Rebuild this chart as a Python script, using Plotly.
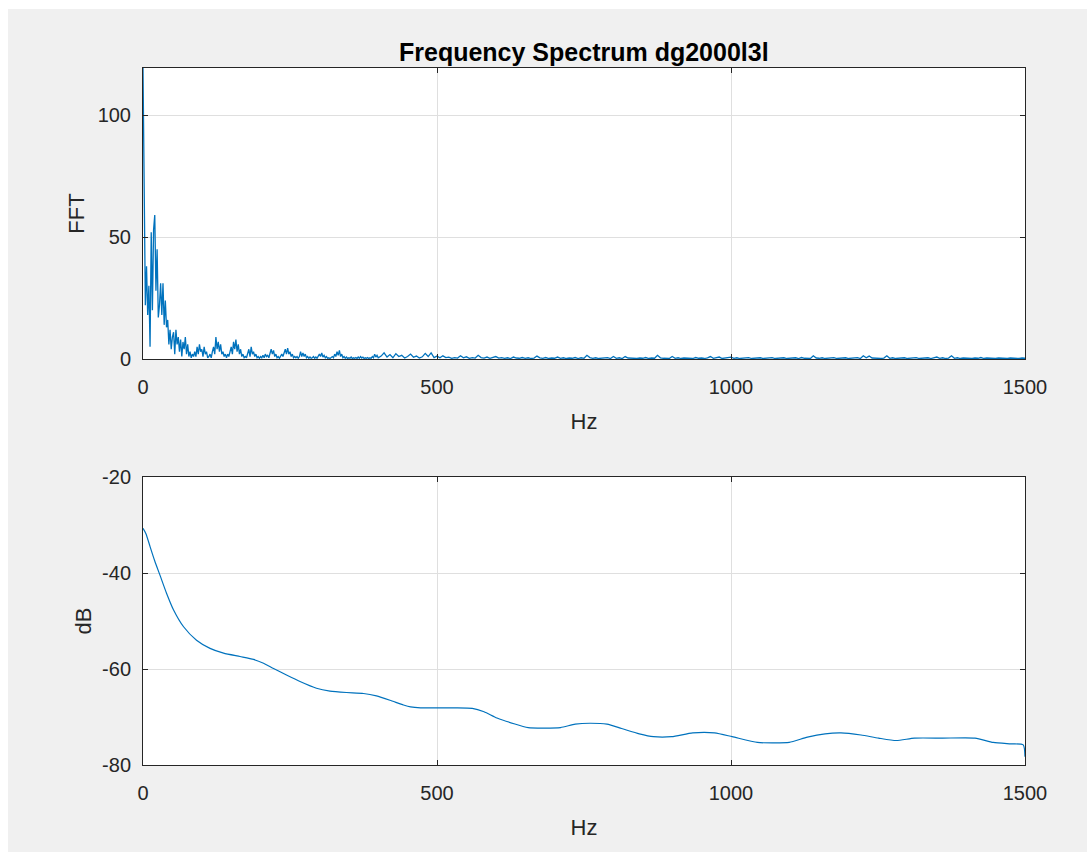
import plotly.graph_objects as go
from plotly.subplots import make_subplots

# ---------------- data ----------------
title_text = "Frequency Spectrum dg2000l3l"

# FFT magnitude, low band 0..400 Hz, 2 Hz bins
fft_low_step = 2.0
fft_low = [
    119.3, 62, 22, 38, 18, 30, 5, 52, 20, 53, 59, 28, 45, 17, 22, 31, 18, 31, 14, 24,
    13, 16, 6, 12, 4, 9, 11, 2, 12, 6, 9, 3, 8, 1, 7, 4, 9, 2, 6, 1,
    3, 0.5, 2, 1, 3, 1, 5, 2, 6, 3, 4, 1, 5, 2, 3, 0.5, 1, 2, 0.5, 3,
    5, 2, 9, 4, 7, 3, 6, 2, 3, 1, 2, 0.5, 2, 1, 3, 5, 2, 7, 4, 8,
    3, 6, 2, 4, 1, 2, 0.5, 1, 0.5, 2, 4, 1, 5, 2, 3, 1, 2, 0.5, 1, 0.3,
    1, 0.5, 1.5, 0.5, 2, 1, 1.5, 0.5, 2, 4, 2, 3.5, 1, 2, 0.5, 1, 0.3, 1, 2, 1,
    3, 4, 2, 4.5, 2, 3, 1, 2, 0.5, 1, 0.5, 1, 0.3, 1, 3, 1, 2.5, 1, 2, 0.5,
    1, 0.3, 0.8, 0.3, 0.5, 1, 0.3, 0.8, 0.3, 1, 2, 1, 2.5, 0.8, 1.5, 0.5, 1, 0.3, 0.5, 0.2,
    0.5, 1, 0.5, 2, 1, 3, 1.5, 3.5, 1, 2, 0.5, 1, 0.3, 0.8, 0.2, 0.5, 0.3, 0.8, 0.2, 0.5,
    0.3, 0.6, 0.2, 0.8, 0.3, 1, 0.4, 0.8, 0.2, 0.5, 0.3, 0.6, 0.2, 0.5, 0.3, 1, 0.5, 2, 0.8, 1.5,
    0.5,
]

# FFT magnitude, high band 405..1500 Hz, 5 Hz bins
fft_high_start = 405.0
fft_high_step = 5.0
fft_high = [
    1.2, 2.5, 0.8, 1.8, 0.5, 2.2, 1.0, 1.5, 0.4, 1.0, 2.0, 0.7, 1.2, 0.4, 0.9, 2.3, 1.0, 2.5, 0.6, 1.2,
    0.5, 1.3, 0.6, 0.8, 0.3, 0.6, 0.4, 1.3, 0.5, 0.9, 0.3, 0.6, 0.4, 1.5, 0.6, 0.4, 0.8, 0.3, 0.5, 1.0,
    0.4, 0.6, 0.3, 0.5, 0.2, 0.8, 0.4, 0.3, 0.6, 0.3, 0.5, 0.2, 0.4, 1.2, 0.5, 0.3, 0.6, 0.2, 0.4, 0.3,
    0.8, 0.3, 0.5, 0.2, 0.4, 0.3, 0.6, 0.2, 0.5, 0.3, 1.5, 0.6, 0.3, 0.5, 0.2, 0.4, 0.3, 0.6, 0.2, 1.0,
    0.3, 0.5, 0.2, 1.0, 0.4, 0.3, 0.5, 0.2, 0.4, 0.3, 0.6, 0.2, 0.4, 0.3, 1.5, 0.5, 0.3, 0.4, 0.2, 1.0,
    0.3, 0.5, 0.2, 0.4, 0.3, 0.5, 0.2, 0.6, 0.3, 0.4, 0.2, 0.5, 1.0, 0.3, 0.4, 0.8, 0.2, 0.4, 0.3, 0.8,
    0.3, 0.5, 0.2, 0.4, 0.3, 0.6, 0.2, 0.4, 0.3, 0.5, 0.2, 0.4, 0.3, 0.6, 0.2, 0.4, 0.3, 0.5, 0.2, 0.4,
    0.3, 0.5, 0.2, 0.6, 0.3, 0.4, 0.2, 1.3, 0.4, 0.3, 0.5, 0.2, 0.4, 0.3, 0.6, 0.2, 0.4, 0.3, 0.5, 0.2,
    0.4, 0.3, 0.6, 0.2, 1.3, 0.5, 1.2, 0.4, 0.3, 0.5, 0.2, 0.4, 1.3, 0.3, 0.5, 0.2, 0.4, 0.3, 0.5, 0.2,
    0.4, 0.3, 0.6, 0.2, 0.4, 0.3, 0.5, 0.2, 0.4, 0.8, 0.3, 0.5, 0.2, 0.4, 1.3, 0.3, 0.5, 0.2, 0.4, 0.3,
    0.5, 0.2, 0.4, 0.3, 0.6, 0.2, 0.4, 0.3, 0.5, 0.2, 0.4, 0.3, 0.5, 0.2, 0.4, 0.3, 0.5, 0.2, 0.4, 0.3,
]

# smoothed spectrum in dB
db_hz = [0, 5, 12, 20, 29, 40, 52, 69, 91, 114, 137, 165, 188, 205, 222, 244, 267, 295, 318, 346,
         375, 397, 420, 443, 455, 472, 500, 530, 560, 580, 602, 631, 655, 680, 710, 735, 760, 789,
         814, 844, 868, 899, 935, 972, 1002, 1045, 1070, 1099, 1130, 1160, 1187, 1221, 1251, 1281,
         1312, 1360, 1415, 1446, 1476, 1497, 1500]
db_val = [-30.7, -31.8, -34.5, -37.5, -40.5, -44.2, -47.7, -51.2, -54.0, -55.7, -56.7, -57.4, -58.0,
          -58.8, -59.9, -61.25, -62.6, -64.0, -64.6, -64.9, -65.1, -65.6, -66.5, -67.5, -67.9, -68.1,
          -68.1, -68.1, -68.2, -68.9, -70.2, -71.4, -72.2, -72.3, -72.2, -71.5, -71.3, -71.5, -72.4,
          -73.5, -74.1, -74.1, -73.3, -73.3, -74.1, -75.3, -75.4, -75.3, -74.2, -73.5, -73.3, -73.75,
          -74.4, -74.9, -74.4, -74.4, -74.4, -75.3, -75.6, -75.8, -78.3]

x_ticks = [0, 500, 1000, 1500]
x_tick_labels = ["0", "500", "1000", "1500"]
fft_ticks = [0, 50, 100]
fft_tick_labels = ["0", "50", "100"]
db_ticks = [-80, -60, -40, -20]
db_tick_labels = ["-80", "-60", "-40", "-20"]

# ---------------- figure ----------------
fft_hz = [i * fft_low_step for i in range(len(fft_low))] + \
         [fft_high_start + i * fft_high_step for i in range(len(fft_high))]
fft_mag = fft_low + fft_high

W, H = 1087, 852
ML, MR, MT, MB = 143, 62, 68, 87
PW, PH = W - ML - MR, H - MT - MB

def py(p):  # pixel y -> paper y
    return (H - MB - p) / PH

def px(p):
    return (p - ML) / PW

LINE = "#0072BD"
AX = "#262626"
GRID = "#dfdfdf"
FONT = "Liberation Sans, Arial, sans-serif"

fig = make_subplots(rows=2, cols=1)
fig.add_trace(go.Scatter(x=fft_hz, y=fft_mag, mode="lines",
                         line=dict(color=LINE, width=1.3), showlegend=False), row=1, col=1)
fig.add_trace(go.Scatter(x=db_hz, y=db_val, mode="lines",
                         line=dict(color=LINE, width=1.2, shape="spline", smoothing=0.6),
                         showlegend=False), row=2, col=1)

common = dict(showline=True, linecolor=AX, linewidth=1, mirror="ticks", ticks="inside",
              ticklen=5, tickcolor=AX, showgrid=True, gridcolor=GRID, gridwidth=1,
              zeroline=False, tickfont=dict(family=FONT, size=20, color=AX))

fig.update_xaxes(**common)
fig.update_yaxes(**common)

TFONT = dict(family=FONT, size=22, color=AX)
fig.update_layout(
    xaxis=dict(range=[0, 1500], tickvals=x_ticks, ticktext=x_tick_labels, ticklabelstandoff=10,
               title=dict(text="Hz", font=TFONT, standoff=16)),
    yaxis=dict(range=[0, 119.3], tickvals=fft_ticks, ticktext=fft_tick_labels, domain=[py(359), 1],
               ticklabelstandoff=7, title=dict(text="FFT", font=TFONT, standoff=6)),
    xaxis2=dict(range=[0, 1500], tickvals=x_ticks, ticktext=x_tick_labels, ticklabelstandoff=10,
                title=dict(text="Hz", font=TFONT, standoff=16)),
    yaxis2=dict(range=[-80, -20], tickvals=db_ticks, ticktext=db_tick_labels, domain=[0, py(477)],
                ticklabelstandoff=7, title=dict(text="dB", font=TFONT, standoff=4)),
)

# white strips at the left and top edges of the page (outside the grey figure)
fig.add_shape(type="rect", xref="paper", yref="paper",
              x0=px(-20), x1=px(8), y0=py(H + 20), y1=py(-20),
              fillcolor="white", line=dict(width=0), layer="below")
fig.add_shape(type="rect", xref="paper", yref="paper",
              x0=px(-20), x1=px(W + 20), y0=py(9), y1=py(-20),
              fillcolor="white", line=dict(width=0), layer="below")

fig.add_annotation(text="<b>" + title_text + "</b>", xref="paper", yref="paper",
                   x=0.5, y=py(52), xanchor="center", yanchor="middle", showarrow=False,
                   font=dict(family=FONT, size=25, color="#000000"))

fig.update_layout(width=W, height=H, margin=dict(l=ML, r=MR, t=MT, b=MB),
                  paper_bgcolor="#f0f0f0", plot_bgcolor="white")

fig.write_html("out.html")
